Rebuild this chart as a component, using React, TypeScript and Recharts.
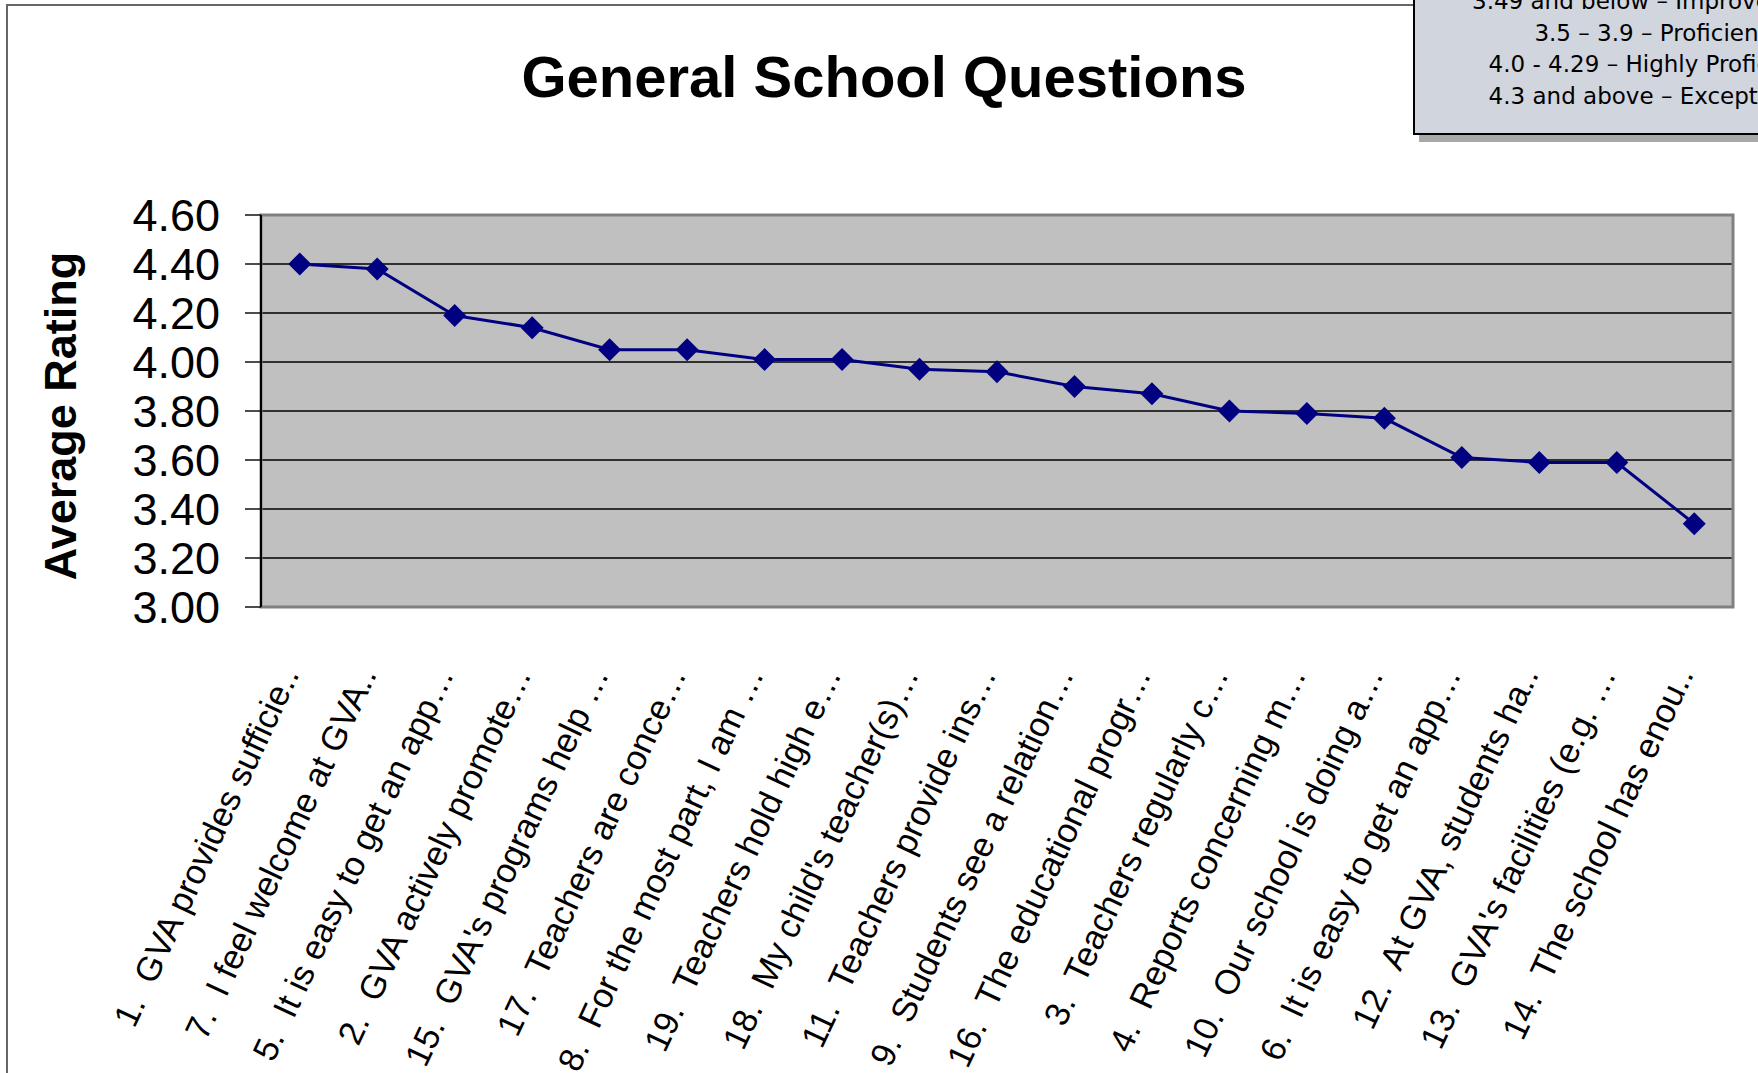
import React from 'react';
import { LineChart, Line, XAxis, YAxis, CartesianGrid, ReferenceArea } from 'recharts';

const questions = [
  '1.  GVA provides sufficie..',
  '7.  I feel welcome at GVA..',
  '5.  It is easy to get an app…',
  '2.  GVA actively promote…',
  "15.  GVA's programs help …",
  '17.  Teachers are conce…',
  '8.  For the most part, I am …',
  '19.  Teachers hold high e…',
  "18.  My child's teacher(s)…",
  '11.  Teachers provide ins…',
  '9.  Students see a relation…',
  '16.  The educational progr…',
  '3.  Teachers regularly c…',
  '4.  Reports concerning m…',
  '10.  Our school is doing a…',
  '6.  It is easy to get an app…',
  '12.  At GVA, students ha..',
  "13.  GVA's facilities (e.g. …",
  '14.  The school has enou..',
];

const ratings = [
  4.4, 4.38, 4.19, 4.14, 4.05, 4.05, 4.01, 4.01, 3.97, 3.96,
  3.9, 3.87, 3.8, 3.79, 3.77, 3.61, 3.59, 3.59, 3.34,
];

const yTicks = [3.0, 3.2, 3.4, 3.6, 3.8, 4.0, 4.2, 4.4, 4.6];

const scaleNotes = [
  '3.49 and below – Improvement',
  '3.5 – 3.9 – Proficient',
  '4.0 - 4.29 – Highly Proficient',
  '4.3 and above – Exceptional',
];

const data = questions.map((q, i) => ({ pos: i + 0.5, label: q, rating: ratings[i] }));
const labelTicks = questions.map((_, i) => i + 0.5);
const boundaryTicks = [...questions.map((_, i) => i), questions.length];

const ARIAL = '"Liberation Sans", Arial, sans-serif';

function QuestionTick(props: any) {
  const { x, y, payload } = props;
  const idx = Math.round(payload.value - 0.5);
  return (
    <g transform={`translate(${x},${y + 59})`}>
      <text
        transform="rotate(-65)"
        textAnchor="end"
        fontFamily={ARIAL}
        fontSize={34.5}
        fill="#000"
        style={{ whiteSpace: 'pre' }}
      >
        {questions[idx]}
      </text>
    </g>
  );
}

function Diamond(props: any) {
  const { cx, cy, index } = props;
  if (cx == null || cy == null) return null;
  const r = 11.5;
  return (
    <path
      key={`d-${index}`}
      d={`M${cx},${cy - r}L${cx + r},${cy}L${cx},${cy + r}L${cx - r},${cy}Z`}
      fill="#000080"
      stroke="none"
    />
  );
}

export default function App() {
  return (
    <div
      style={{
        position: 'absolute',
        left: 0,
        top: 0,
        width: 1758,
        height: 1073,
        overflow: 'hidden',
        background: '#fff',
      }}
    >
      {/* chart area frame */}
      <div
        style={{
          position: 'absolute',
          left: 6,
          top: 4,
          width: 2000,
          height: 2000,
          borderLeft: '2px solid #666',
          borderTop: '2px solid #666',
        }}
      />

      <div style={{ position: 'absolute', left: 0, top: 0 }}>
        <LineChart width={1758} height={1073} data={data} margin={{ top: 215, right: 25, bottom: 0, left: 0 }}>
          <CartesianGrid
            vertical={false}
            fill="#C0C0C0"
            fillOpacity={1}
            stroke="#000"
            strokeWidth={1.4}
            xAxisId="lbl"
          />
          <ReferenceArea
            xAxisId="lbl"
            x1={0}
            x2={questions.length}
            y1={3}
            y2={4.6}
            fill="none"
            stroke="#808080"
            strokeWidth={3}
          />
          <XAxis
            xAxisId="marks"
            type="number"
            dataKey="pos"
            domain={[0, questions.length]}
            ticks={boundaryTicks}
            interval={0}
            height={0}
            tick={false}
            tickSize={9}
            tickLine={{ stroke: '#000', strokeWidth: 1.5 }}
            axisLine={{ stroke: '#000', strokeWidth: 2 }}
          />
          <XAxis
            xAxisId="lbl"
            type="number"
            dataKey="pos"
            domain={[0, questions.length]}
            ticks={labelTicks}
            interval={0}
            height={466}
            tickLine={false}
            axisLine={false}
            tick={<QuestionTick />}
          />
          <YAxis
            type="number"
            domain={[3, 4.6]}
            ticks={yTicks}
            interval={0}
            width={261}
            tickSize={16}
            tickMargin={25}
            tickFormatter={(v: number) => v.toFixed(2)}
            tick={{ fontSize: 45, fill: '#000', fontFamily: ARIAL }}
            tickLine={{ stroke: '#000', strokeWidth: 1.4 }}
            axisLine={{ stroke: '#000', strokeWidth: 2 }}
          />
          <Line
            xAxisId="lbl"
            type="linear"
            dataKey="rating"
            stroke="#000080"
            strokeWidth={3}
            dot={<Diamond />}
            activeDot={false}
            isAnimationActive={false}
          />
        </LineChart>
      </div>

      {/* title */}
      <div
        style={{
          position: 'absolute',
          left: 884,
          top: 48,
          transform: 'translateX(-50%)',
          fontFamily: ARIAL,
          fontWeight: 'bold',
          fontSize: 58,
          lineHeight: '58px',
          whiteSpace: 'nowrap',
          color: '#000',
        }}
      >
        General School Questions
      </div>

      {/* y axis title */}
      <div
        style={{
          position: 'absolute',
          left: 60,
          top: 416,
          transform: 'translate(-50%, -50%) rotate(-90deg)',
          fontFamily: ARIAL,
          fontWeight: 'bold',
          fontSize: 45,
          lineHeight: '45px',
          whiteSpace: 'nowrap',
          color: '#000',
        }}
      >
        Average Rating
      </div>

      {/* rating scale note box */}
      <div
        style={{
          position: 'absolute',
          left: 1413,
          top: -40,
          width: 472,
          height: 171,
          background: '#D0D5DE',
          border: '2px solid #000',
          boxShadow: '6px 7px 0 #A8A8A8',
        }}
      />
      <div
        style={{
          position: 'absolute',
          left: 1415,
          top: -14,
          width: 472,
          textAlign: 'center',
          fontFamily: '"DejaVu Sans", Verdana, sans-serif',
          fontSize: 23,
          lineHeight: '31.5px',
          color: '#000',
        }}
      >
        {scaleNotes.map((s) => (
          <div key={s} style={{ whiteSpace: 'nowrap' }}>
            {s}
          </div>
        ))}
      </div>
    </div>
  );
}
